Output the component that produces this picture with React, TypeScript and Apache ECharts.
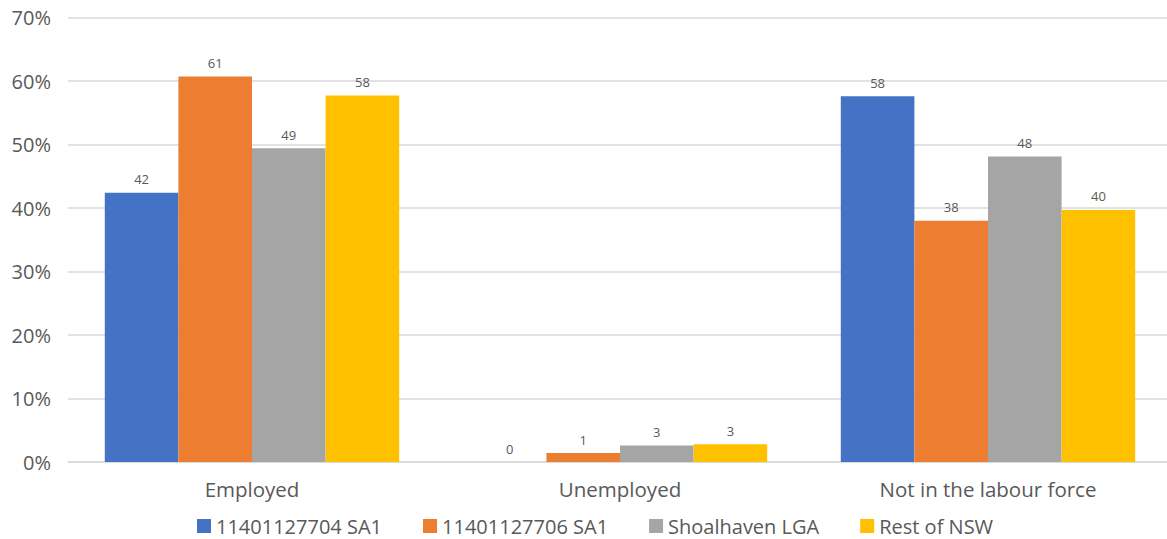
import React, { useEffect, useRef } from "react";
import * as echarts from "echarts";

// Labour force status, share of persons aged 15+ (%)
const categories = ["Employed", "Unemployed", "Not in the labour force"];
const seriesNames = ["11401127704 SA1", "11401127706 SA1", "Shoalhaven LGA", "Rest of NSW"];
const sa1_704 = [42.4, 0, 57.6];
const sa1_706 = [60.7, 1.4, 38.0];
const shoalhaven = [49.4, 2.6, 48.1];
const restOfNsw = [57.7, 2.8, 39.7];
const colors = ["#4472C4", "#ED7D31", "#A5A5A5", "#FFC000"];

const FONT = "'Open Sans', sans-serif";
const TEXT = "#595959";

export default function App() {
  const ref = useRef<HTMLDivElement>(null);

  useEffect(() => {
    if (!ref.current) return;
    const chart = echarts.init(ref.current, undefined, { renderer: "svg" });
    const values = [sa1_704, sa1_706, shoalhaven, restOfNsw];
    chart.setOption({
      animation: false,
      textStyle: { fontFamily: FONT },
      // plot area runs a few pixels past the visible right edge
      grid: { left: 68, right: 0, top: 17.5, bottom: 77, containLabel: false },
      legend: {
        top: 516,
        left: 197,
        padding: 0,
        itemWidth: 14,
        itemHeight: 14,
        itemGap: 41,
        icon: "rect",
        textStyle: { fontFamily: FONT, fontSize: 20, lineHeight: 20, color: TEXT },
        data: seriesNames,
      },
      xAxis: {
        type: "category",
        data: categories,
        axisTick: { show: false },
        axisLine: { lineStyle: { color: "#d9d9d9", width: 1.5 } },
        axisLabel: { fontFamily: FONT, fontSize: 20.5, color: TEXT, margin: 16 },
      },
      yAxis: {
        type: "value",
        min: 0,
        max: 70,
        interval: 10,
        axisLabel: {
          fontFamily: FONT,
          fontSize: 20,
          color: TEXT,
          margin: 17,
          formatter: (v: number) => `${v}%`,
        },
        splitLine: { lineStyle: { color: "#d9d9d9", width: 1.5 } },
      },
      series: seriesNames.map((name, i) => ({
        name,
        type: "bar",
        data: values[i],
        barGap: "0%",
        barCategoryGap: "20%",
        itemStyle: { color: colors[i] },
        label: {
          show: true,
          position: "top",
          distance: 7,
          fontFamily: FONT,
          fontSize: 13,
          color: TEXT,
          formatter: (p: any) => String(Math.round(p.value)),
        },
      })),
    });
    return () => chart.dispose();
  }, []);

  return (
    <div
      ref={ref}
      style={{ position: "fixed", left: 0, top: 0, width: 1172, height: 539, background: "#fff" }}
    />
  );
}
